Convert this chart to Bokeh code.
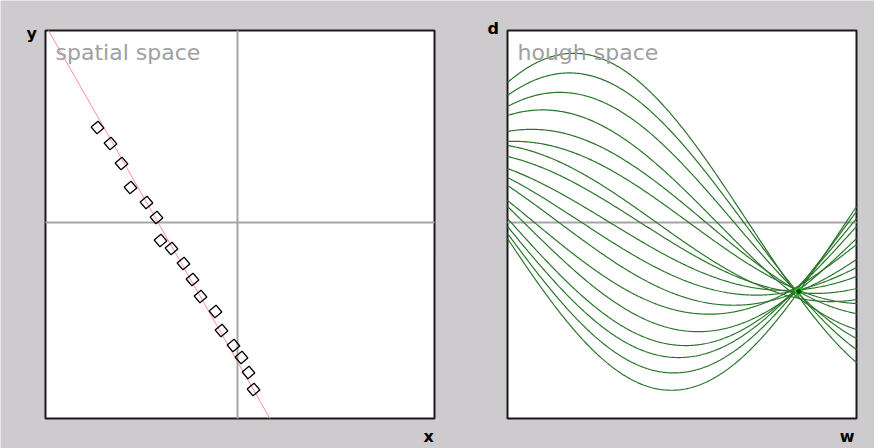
import numpy as np
from bokeh.plotting import figure
from bokeh.models import Range1d
from bokeh.core.properties import value
from bokeh.embed import file_html
from bokeh.resources import INLINE

# ---- data (spatial space, pixel-like units, origin at the crossing axes) ----
pts_x = [-140, -127, -116, -107, -91, -81, -77, -66, -54, -45, -37, -22, -16, -4, 4, 11, 16]
pts_y = [95, 79, 59, 35, 20, 5, -18, -26, -41, -57, -74, -89, -108, -123, -135, -150, -167]

# detected line in normal form:  -x*cos(w) + y*sin(w) = d
line_w = 2.623
line_d = -69.0

# axis limits of the two panels
sx_min, sx_max = -192, 197          # spatial x
v_min, v_max = -196, 192            # spatial y and hough d
w_min, w_max = 0.0, np.pi           # hough w

GREY = "#cdcbce"
W, H = 874, 448
FONT = value("DejaVu Sans")

# one canvas; data units chosen so the left panel is 1 unit per pixel
p = figure(width=W, height=H, output_backend="svg", toolbar_location=None,
           x_axis_location=None, y_axis_location=None,
           x_range=Range1d(-237, W - 237), y_range=Range1d(222 - H, 222),
           min_border=0)
wscale = (w_max - w_min) / 349.0
p.extra_x_ranges = {"hough": Range1d(w_min - 507 * wscale, w_min + (W - 507) * wscale)}
p.grid.visible = False
p.outline_line_color = None
p.background_fill_color = GREY
p.border_fill_color = GREY

# ---------------- left: spatial space ----------------
p.quad(left=[sx_min], right=[sx_max], bottom=[v_min], top=[v_max],
       fill_color="white", line_color="#1a1a1a", line_width=2)
p.segment(x0=[sx_min, 0], y0=[0, v_min], x1=[sx_max, 0], y1=[0, v_max],
          line_color="#a6a6a6", line_width=2)

# detected line, drawn between the panel's top and bottom
sw, cw = np.sin(line_w), np.cos(line_w)
ly = np.array([v_max, v_min], dtype=float)
lx = (ly * sw - line_d) / cw
p.line(lx, ly, line_color="#ff8f8f", line_width=1)

p.scatter(pts_x, pts_y, marker="square", size=9, angle=0.7,
          fill_color=None, line_color="black", line_width=1.3)

p.text(x=[-182], y=[170], text=["spatial space"], text_font=FONT, text_font_size="22px",
       text_color="#a0a0a0", text_baseline="alphabetic")
p.text(x=[-211], y=[189], text=["y"], text_font=FONT, text_font_size="16px",
       text_font_style="bold", text_color="black", text_baseline="alphabetic")
p.text(x=[186], y=[-214], text=["x"], text_font=FONT, text_font_size="16px",
       text_font_style="bold", text_color="black", text_baseline="alphabetic")

# ---------------- right: hough space ----------------
p.quad(left=[w_min], right=[w_max], bottom=[v_min], top=[v_max],
       fill_color="white", line_color="#1a1a1a", line_width=2, x_range_name="hough")
p.segment(x0=[w_min], y0=[0], x1=[w_max], y1=[0], line_color="#a6a6a6",
          line_width=2, x_range_name="hough")

ws = np.linspace(w_min, w_max, 300)
xs, ys = [], []
for px_, py_ in zip(pts_x, pts_y):
    xs.append(ws)
    ys.append(-px_ * np.cos(ws) + py_ * np.sin(ws))
p.multi_line(xs=xs, ys=ys, line_color="#2a752a", line_width=1.2, x_range_name="hough")

p.scatter([line_w], [line_d], marker="square", size=6, angle=0.5,
          fill_color="#0b3b0b", line_color="#22cc22", line_width=1.5, x_range_name="hough")

p.text(x=[0.09], y=[170], text=["hough space"], text_font=FONT, text_font_size="22px",
       text_color="#a0a0a0", text_baseline="alphabetic", x_range_name="hough")
p.text(x=[-0.18], y=[194], text=["d"], text_font=FONT, text_font_size="16px",
       text_font_style="bold", text_color="black", text_baseline="alphabetic",
       x_range_name="hough")
p.text(x=[2.99], y=[-214], text=["w"], text_font=FONT, text_font_size="16px",
       text_font_style="bold", text_color="black", text_baseline="alphabetic",
       x_range_name="hough")

open("out.html", "w").write(file_html(p, INLINE))
